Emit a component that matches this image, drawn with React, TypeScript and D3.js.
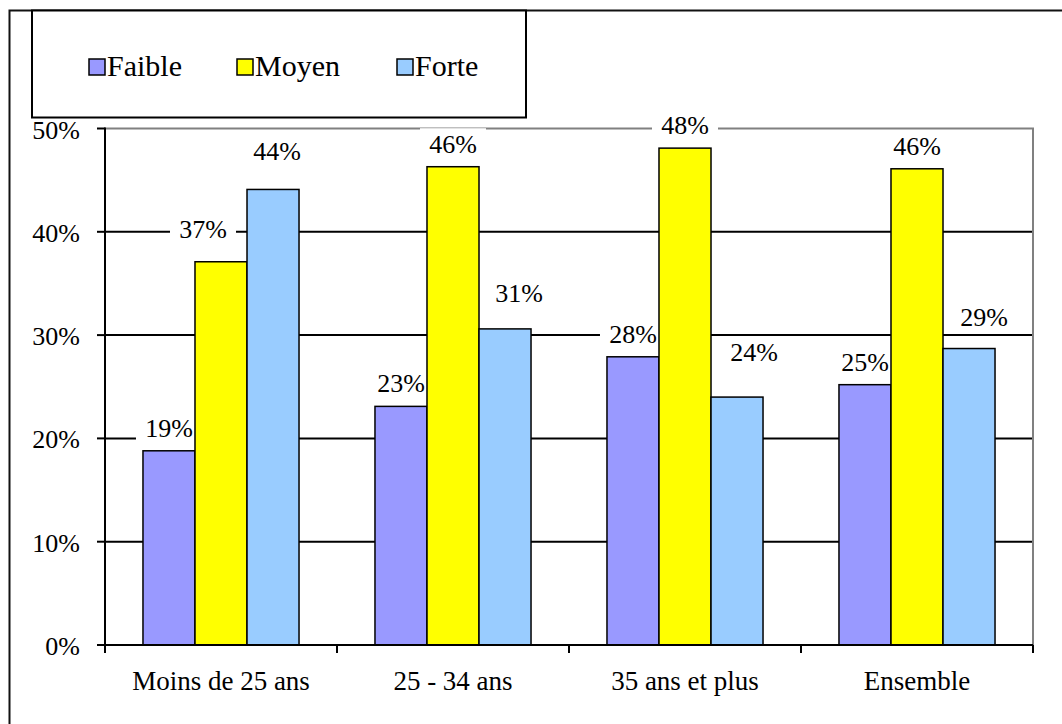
import React from "react";
import * as d3 from "d3";

const categories = ["Moins de 25 ans", "25 - 34 ans", "35 ans et plus", "Ensemble"];
const seriesNames = ["Faible", "Moyen", "Forte"];
const faible = [18.8, 23.1, 27.9, 25.2];
const moyen = [37.1, 46.3, 48.1, 46.1];
const forte = [44.1, 30.6, 24.0, 28.7];
const yTicks = [0, 10, 20, 30, 40, 50];

// manual label nudges (dx, dy) as placed in the original chart
const labelNudge: Record<string, [number, number][]> = {
  Faible: [[0, 0], [0, 0], [0, 0], [0, 0]],
  Moyen: [[-18, -10], [0, 0], [0, 0], [0, 0]],
  Forte: [[4, -15], [14, -13], [17, -22], [15, -9]],
};

const colors: Record<string, string> = { Faible: "#9999FF", Moyen: "#FFFF00", Forte: "#99CCFF" };
const values: Record<string, number[]> = { Faible: faible, Moyen: moyen, Forte: forte };

const W = 1062, H = 724;
const left = 105, right = 1033, top = 128.5, bottom = 645;
const font = "Liberation Serif, Tinos, DejaVu Serif, serif";
const ts = { fontFamily: font };

export default function App() {
  const x0 = d3.scaleBand<string>().domain(categories).range([left, right]).paddingInner(0).paddingOuter(0);
  const x1 = d3.scaleBand<string>().domain(seriesNames).range([0, x0.bandwidth()]).paddingInner(0).paddingOuter(0.73);
  const y = d3.scaleLinear().domain([0, 50]).range([bottom, top]);

  const labels: { key: string; cx: number; base: number; text: string }[] = [];
  seriesNames.forEach((s) => {
    values[s].forEach((v, i) => {
      const cx = (x0(categories[i]) as number) + (x1(s) as number) + x1.bandwidth() / 2 + labelNudge[s][i][0];
      const base = y(v) - 14 + labelNudge[s][i][1];
      labels.push({ key: s + i, cx, base, text: Math.round(v) + "%" });
    });
  });

  const labelW = 48;

  return (
    <svg width={W} height={H} style={{ position: "absolute", left: 0, top: 0, background: "#fff", fontFamily: font }}>
      <rect x={0} y={0} width={W} height={H} fill="#fff" />
      {/* outer frame */}
      <path d={`M9.5,${H + 5} V10.5 H${W + 5}`} fill="none" stroke="#111" strokeWidth={2} />

      {/* gridlines */}
      {yTicks.filter((t) => t > 0 && t < 50).map((t) => (
        <line key={"g" + t} x1={left} x2={right} y1={y(t)} y2={y(t)} stroke="#000" strokeWidth={2} />
      ))}
      {/* plot border top & right */}
      <path d={`M${left},${y(50)} H${right} V${bottom}`} fill="none" stroke="#808080" strokeWidth={2} />

      {/* label backgrounds */}
      {labels.map((l) => (
        <rect key={"bg" + l.key} x={l.cx - labelW / 2 - 9} y={l.base - 24.5} width={labelW + 18} height={31} fill="#fff" />
      ))}

      {/* bars */}
      {seriesNames.map((s) =>
        values[s].map((v, i) => (
          <rect
            key={s + i}
            x={(x0(categories[i]) as number) + (x1(s) as number)}
            y={y(v)}
            width={x1.bandwidth()}
            height={bottom - y(v)}
            fill={colors[s]}
            stroke="#000"
            strokeWidth={1.5}
          />
        ))
      )}

      {/* label text */}
      {labels.map((l) => (
        <text key={"t" + l.key} x={l.cx} y={l.base} textAnchor="middle" fontSize={26} fill="#000" style={ts}>
          {l.text}
        </text>
      ))}

      {/* axes */}
      <line x1={left} x2={left} y1={y(50) - 1} y2={bottom + 8} stroke="#000" strokeWidth={2} />
      <line x1={left - 8} x2={right} y1={bottom} y2={bottom} stroke="#000" strokeWidth={2} />
      {yTicks.map((t) => (
        <g key={"yt" + t}>
          <line x1={left - 8} x2={left} y1={y(t)} y2={y(t)} stroke="#000" strokeWidth={2} />
          <text x={80} y={y(t) + 10} textAnchor="end" fontSize={26} fill="#000" style={ts}>
            {t}%
          </text>
        </g>
      ))}
      {categories.map((c, i) => (
        <line key={"xt" + i} x1={(x0(c) as number) + x0.bandwidth()} x2={(x0(c) as number) + x0.bandwidth()} y1={bottom} y2={bottom + 8} stroke="#000" strokeWidth={2} />
      ))}
      {categories.map((c) => (
        <text key={"xl" + c} x={(x0(c) as number) + x0.bandwidth() / 2} y={690} textAnchor="middle" fontSize={27} fill="#000" style={ts}>
          {c}
        </text>
      ))}

      {/* legend */}
      <rect x={32} y={10.5} width={494} height={107} fill="#fff" stroke="#000" strokeWidth={2} />
      {seriesNames.map((s, i) => {
        const lx = [89, 237, 397][i];
        return (
          <g key={"lg" + s}>
            <rect x={lx} y={59} width={16} height={16} fill={colors[s]} stroke="#000" strokeWidth={1.5} />
            <text x={lx + 18} y={76} fontSize={30} fill="#000" style={ts}>
              {s}
            </text>
          </g>
        );
      })}
    </svg>
  );
}
